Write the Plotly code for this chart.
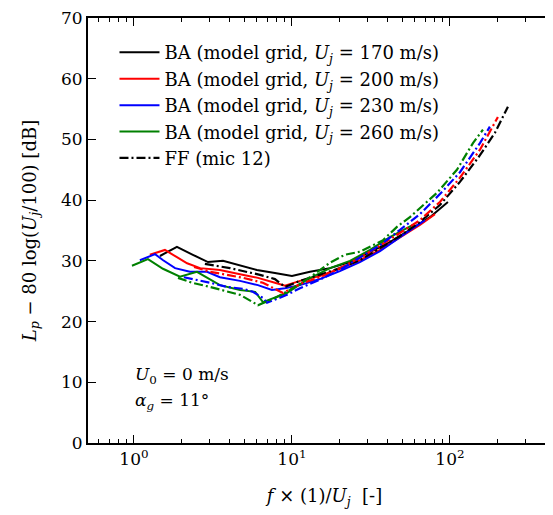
import plotly.graph_objects as go

# normalised frequency f/Uj and level Lp - 80 log(Uj/100) [dB]
ba_170_f = [1.46, 1.87, 2.36, 2.94, 3.66, 4.69, 6.0, 7.8, 10.0, 13.0, 17.4, 23.3, 31.2, 41.7, 55.8, 74.7, 97.1]
ba_170_l = [30.8, 32.3, 31.0, 29.8, 30.0, 29.3, 28.5, 28.0, 27.5, 28.2, 28.8, 29.8, 31.5, 33.1, 35.1, 37.2, 39.7]

ba_200_f = [1.26, 1.57, 1.87, 2.17, 2.62, 3.5, 4.69, 6.09, 7.8, 9.03, 11.24, 15.0, 20.1, 26.9, 36.1, 48.3, 64.6, 80.4]
ba_200_l = [31.0, 31.8, 30.6, 29.6, 28.8, 28.5, 27.8, 27.2, 26.4, 25.9, 26.7, 27.5, 28.7, 30.1, 31.8, 33.8, 35.9, 37.7]

ba_230_f = [1.09, 1.36, 1.53, 1.82, 2.26, 2.90, 3.5, 4.69, 6.09, 7.47, 9.03, 11.24, 15.0, 20.1, 26.9, 36.1, 48.3, 69.5]
ba_230_l = [30.1, 31.1, 30.1, 28.8, 28.2, 28.2, 27.3, 26.7, 26.0, 25.2, 25.5, 26.0, 27.0, 28.3, 29.8, 31.6, 33.9, 36.7]

ba_260_f = [0.971, 1.226, 1.526, 1.955, 2.504, 3.5, 4.69, 5.85, 6.55, 9.29, 12.45, 17.4, 23.3, 31.2, 41.7, 60.0]
ba_260_l = [29.2, 30.3, 28.7, 27.4, 28.2, 26.0, 25.2, 24.9, 23.2, 24.7, 26.9, 28.8, 30.0, 31.8, 33.9, 36.1]

ff_170_f = [2.81, 4.05, 6.27, 7.8, 9.03, 11.24, 15.0, 20.1, 26.9, 36.1, 48.3, 64.6, 86.4, 115.7, 154.9, 192.7, 232.9]
ff_170_l = [29.5, 28.8, 27.7, 27.0, 25.7, 26.7, 27.7, 28.8, 30.1, 32.1, 34.1, 36.4, 39.2, 43.0, 47.4, 51.1, 55.4]

ff_200_f = [2.40, 3.03, 3.88, 4.90, 6.55, 8.04, 8.77, 11.24, 15.0, 20.1, 26.9, 36.1, 48.3, 64.6, 86.4, 115.7, 154.9, 184.5, 201.2]
ff_200_l = [29.0, 28.2, 27.7, 27.2, 26.4, 25.2, 24.7, 26.2, 27.3, 28.8, 30.5, 32.5, 34.6, 36.7, 39.7, 43.7, 48.3, 51.9, 53.7]

ff_230_f = [2.07, 2.50, 3.03, 3.88, 4.90, 5.66, 6.55, 6.95, 9.29, 11.24, 15.0, 20.1, 26.9, 36.1, 48.3, 64.6, 86.4, 115.7, 154.9, 179.0]
ff_230_l = [27.3, 26.9, 26.4, 25.7, 25.4, 24.9, 23.9, 23.1, 24.4, 25.5, 26.9, 28.5, 30.5, 32.6, 35.1, 37.7, 41.0, 44.6, 49.4, 52.1]

ff_260_f = [1.90, 2.33, 3.03, 3.88, 4.69, 5.66, 6.09, 7.8, 9.71, 13.0, 17.4, 21.6, 26.9, 37.7, 46.2, 55.8, 82.8, 110.7, 139.9, 161.8]
ff_260_l = [27.2, 26.4, 25.7, 24.9, 24.4, 23.2, 22.7, 23.9, 25.2, 27.3, 29.7, 31.0, 31.5, 33.4, 35.6, 37.2, 41.2, 45.0, 49.4, 51.6]

speeds = [170, 200, 230, 260]
colors = ["black", "red", "blue", "green"]
ba_f = [ba_170_f, ba_200_f, ba_230_f, ba_260_f]
ba_l = [ba_170_l, ba_200_l, ba_230_l, ba_260_l]
ff_f = [ff_170_f, ff_200_f, ff_230_f, ff_260_f]
ff_l = [ff_170_l, ff_200_l, ff_230_l, ff_260_l]

FONT = "DejaVu Serif"
dashdot = "9px,3px,2px,3px"

fig = go.Figure()

for i, (u, c) in enumerate(zip(speeds, colors)):
    fig.add_trace(go.Scatter(
        x=ba_f[i], y=ba_l[i], mode="lines",
        name=f"BA (model grid, <i>U<sub>j</sub></i> = {u} m/s)",
        line=dict(color=c, width=2),
        legendrank=i + 1,
    ))

for i, (u, c) in enumerate(zip(speeds, colors)):
    fig.add_trace(go.Scatter(
        x=ff_f[i], y=ff_l[i], mode="lines",
        name="FF (mic 12)",
        line=dict(color=c, width=2.2, dash=dashdot),
        showlegend=(i == 0),
        legendrank=10,
    ))

fig.add_annotation(
    x=0.095, y=0.127, xref="paper", yref="paper", xanchor="left", yanchor="bottom",
    text="<i>U</i><sub>0</sub> = 0 m/s", showarrow=False,
    font=dict(family=FONT, size=17, color="black"),
)
fig.add_annotation(
    x=0.095, y=0.065, xref="paper", yref="paper", xanchor="left", yanchor="bottom",
    text="<i>α<sub>g</sub></i> = 11°", showarrow=False,
    font=dict(family=FONT, size=17, color="black"),
)

axis_common = dict(
    showgrid=False, zeroline=False, automargin=False,
    showline=True, linecolor="black", linewidth=2,
    mirror="allticks", ticks="inside", ticklen=8, tickwidth=1.2, tickcolor="black",
    tickfont=dict(family=FONT, size=17, color="black"),
    ticklabeloverflow="allow",
)

# page body adds ~8px offset, so the right spine falls just outside the window
fig.update_xaxes(
    type="log", range=[-0.291, 2.703],
    tickvals=[1, 10, 100],
    ticktext=["10<sup>0</sup>", "10<sup>1</sup>", "10<sup>2</sup>"],
    minor=dict(ticks="inside", ticklen=4, tickcolor="black", tickwidth=1,
               tickvals=[0.6, 0.7, 0.8, 0.9, 2, 3, 4, 5, 6, 7, 8, 9,
                         20, 30, 40, 50, 60, 70, 80, 90, 200, 300, 400]),
    title=dict(text="<i>f</i> × (1)/<i>U<sub>j</sub></i>  [-]", standoff=21,
               font=dict(family=FONT, size=18, color="black")),
    **axis_common,
)
fig.update_yaxes(
    range=[0, 70], tickvals=[0, 10, 20, 30, 40, 50, 60, 70],
    title=dict(text="<i>L<sub>p</sub></i> − 80 log(<i>U<sub>j</sub></i>/100) [dB]", standoff=20,
               font=dict(family=FONT, size=18, color="black")),
    **axis_common,
)

fig.update_layout(
    width=553, height=515,
    margin=dict(l=80, r=0, t=10, b=80),
    paper_bgcolor="white", plot_bgcolor="white",
    font=dict(family=FONT, size=17, color="black"),
    legend=dict(
        x=0.056, y=0.962, xanchor="left", yanchor="top",
        bgcolor="rgba(0,0,0,0)", borderwidth=0,
        font=dict(family=FONT, size=18, color="black"),
        tracegroupgap=0, itemwidth=40,
    ),
)

fig.write_html("out.html")
